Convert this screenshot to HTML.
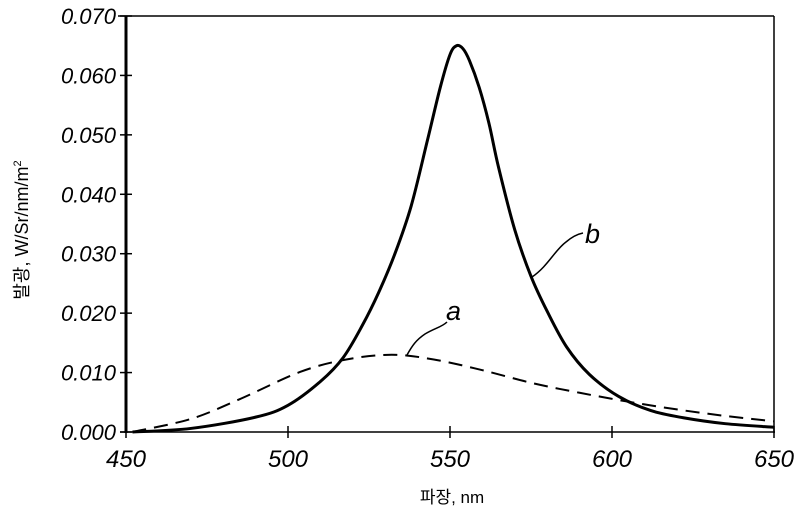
<!DOCTYPE html>
<html><head><meta charset="utf-8"><style>
body{margin:0;background:#fff;width:800px;height:514px;overflow:hidden}
svg{display:block}
text{font-family:"Liberation Sans","Noto Sans CJK KR",sans-serif;fill:#000}
.t{font-size:22px;font-style:italic}
</style></head><body>
<svg id="s" width="800" height="514" viewBox="0 0 800 514">
<line x1="118" y1="16" x2="774" y2="16" stroke="#000" stroke-width="1.5"/>
<line x1="126" y1="16" x2="126" y2="433" stroke="#000" stroke-width="3"/>
<line x1="120" y1="432" x2="775" y2="432" stroke="#000" stroke-width="1.5"/>
<line x1="774" y1="16" x2="774" y2="433" stroke="#000" stroke-width="1.5"/>
<g id="ticks" stroke="#000" stroke-width="1.5"></g>
<g id="labels"></g>
<path id="pa" fill="none" stroke="#000" stroke-width="2" stroke-dasharray="14,8"/>
<path id="pb" fill="none" stroke="#000" stroke-width="3"/>
<path d="M532,277 C548,266 555,250 566,242 C573,236 578,234 583,233" fill="none" stroke="#000" stroke-width="1.5"/>
<path d="M407,355 C412,346 416,340 425,334 C435,328 442,327 447,322" fill="none" stroke="#000" stroke-width="1.5"/>
<text x="585" y="243" class="t" style="font-size:27px">b</text>
<text x="446" y="320" class="t" style="font-size:27px">a</text>
<text x="452" y="503" text-anchor="middle" style="font-size:17px">파장, nm</text>
<text transform="translate(28,230) rotate(-90)" text-anchor="middle" style="font-size:18px">발광,  W/Sr/nm/m<tspan dy="-7" style="font-size:11px">2</tspan></text>
</svg>
<script>
const X=n=>126+(n-450)*3.24, Y=v=>432-v*5943;
const ns="http://www.w3.org/2000/svg";
const tk=document.getElementById('ticks'), lb=document.getElementById('labels');
function el(p,t,a,txt){const e=document.createElementNS(ns,t);for(const k in a)e.setAttribute(k,a[k]);if(txt)e.textContent=txt;p.appendChild(e);}
for(let i=0;i<=7;i++){const y=Y(i*0.01);el(tk,'line',{x1:120,y1:y,x2:132,y2:y});
el(lb,'text',{x:116,y:y+8,'text-anchor':'end','class':'t'},(i*0.01).toFixed(3));}
for(let n=450;n<=650;n+=50){const x=X(n);el(tk,'line',{x1:x,y1:426,x2:x,y2:438});
el(lb,'text',{x:x,y:467,'text-anchor':'middle','class':'t','style':'font-size:24px'},String(n));}
function path(pts){const p=pts.map(([n,v])=>[X(n),Y(v)]);let d='M'+p[0][0]+','+p[0][1];
for(let i=0;i<p.length-1;i++){const p0=p[i-1]||p[i],p1=p[i],p2=p[i+1],p3=p[i+2]||p2;
d+=` C${p1[0]+(p2[0]-p0[0])/6},${p1[1]+(p2[1]-p0[1])/6} ${p2[0]-(p3[0]-p1[0])/6},${p2[1]-(p3[1]-p1[1])/6} ${p2[0]},${p2[1]}`;}return d;}
document.getElementById('pb').setAttribute('d',path([[452,0],[470,0.0006],[490,0.0025],[500,0.0045],[510,0.0085],[517,0.0125],[523,0.018],[528,0.0235],[533,0.030],[538,0.038],[543,0.049],[547,0.058],[550,0.0635],[552,0.065],[554,0.0645],[556,0.0625],[559,0.058],[562,0.052],[565,0.0445],[570,0.034],[575,0.0262],[580,0.0203],[586,0.0143],[593,0.0097],[602,0.006],[612,0.0036],[622,0.0024],[635,0.0014],[650,0.0008]]));
document.getElementById('pa').setAttribute('d',path([[452,0],[470,0.0022],[485,0.0055],[503.7,0.0101],[518,0.0122],[532,0.013],[545,0.0122],[560,0.0104],[575.6,0.0082],[590,0.0066],[605,0.0051],[620,0.0038],[635,0.0027],[650,0.0018]]));
</script>
</body></html>
